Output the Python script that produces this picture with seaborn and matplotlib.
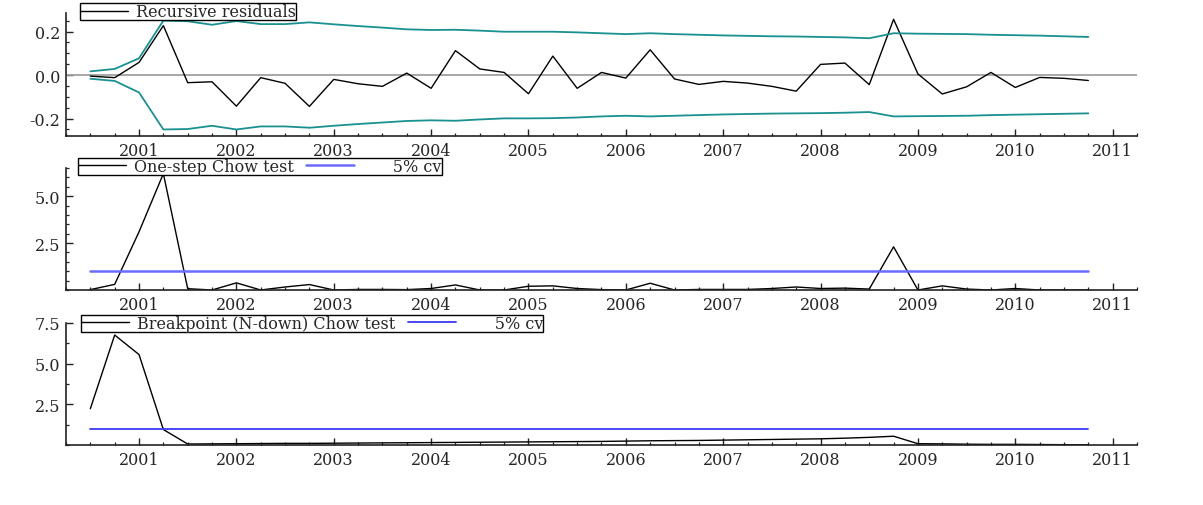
import numpy as np
import pandas as pd
import matplotlib
matplotlib.use("Agg")
import matplotlib.pyplot as plt
from matplotlib.ticker import MultipleLocator, FormatStrFormatter
import seaborn as sns

# ---------------- data ----------------
quarters = pd.period_range("2000Q3", "2010Q4", freq="Q")

recursive_residuals = [
    -0.005, -0.012, 0.058, 0.227, -0.035, -0.031, -0.143, -0.012, -0.038, -0.144,
    -0.020, -0.040, -0.052, 0.009, -0.061, 0.112, 0.028, 0.012, -0.086, 0.087,
    -0.061, 0.012, -0.014, 0.116, -0.018, -0.043, -0.029, -0.037, -0.052, -0.074,
    0.049, 0.055, -0.044, 0.256, 0.005, -0.087, -0.054, 0.012, -0.057, -0.011,
    -0.015, -0.025]

upper_band = [
    0.017, 0.028, 0.077, 0.250, 0.247, 0.231, 0.248, 0.234, 0.234, 0.242,
    0.233, 0.225, 0.218, 0.210, 0.207, 0.208, 0.204, 0.199, 0.199, 0.199,
    0.196, 0.192, 0.188, 0.192, 0.188, 0.185, 0.182, 0.180, 0.178, 0.177,
    0.175, 0.173, 0.169, 0.192, 0.190, 0.189, 0.188, 0.185, 0.183, 0.181,
    0.178, 0.175]

lower_band = [
    -0.017, -0.027, -0.080, -0.250, -0.248, -0.233, -0.250, -0.236, -0.236, -0.242,
    -0.233, -0.225, -0.218, -0.211, -0.208, -0.210, -0.204, -0.199, -0.199, -0.198,
    -0.195, -0.190, -0.187, -0.190, -0.187, -0.184, -0.181, -0.179, -0.177, -0.176,
    -0.175, -0.173, -0.170, -0.190, -0.189, -0.188, -0.187, -0.184, -0.182, -0.180,
    -0.178, -0.176]

one_step_chow = [
    0.02, 0.30, 3.10, 6.20, 0.07, 0.00, 0.38, 0.00, 0.16, 0.29,
    0.00, 0.03, 0.03, 0.02, 0.08, 0.27, 0.00, 0.00, 0.20, 0.22,
    0.08, 0.02, 0.00, 0.36, 0.00, 0.03, 0.03, 0.03, 0.08, 0.16,
    0.08, 0.10, 0.05, 2.30, 0.00, 0.22, 0.05, 0.00, 0.08, 0.00,
    0.00, 0.00]

breakpoint_chow = [
    2.23, 6.76, 5.56, 0.95, 0.06, 0.07, 0.08, 0.09, 0.10, 0.10,
    0.11, 0.12, 0.13, 0.14, 0.15, 0.16, 0.17, 0.18, 0.19, 0.20,
    0.21, 0.22, 0.24, 0.26, 0.27, 0.28, 0.30, 0.32, 0.34, 0.36,
    0.38, 0.42, 0.47, 0.54, 0.08, 0.07, 0.05, 0.04, 0.04, 0.03,
    0.02, 0.01]

critical_value = 1.0
year_ticks = list(range(2001, 2012))

label_resid = "Recursive residuals"
label_one = "One-step Chow test"
label_bp = "Breakpoint (N-down) Chow test"
label_cv = "      5% cv"

# ---------------- frame ----------------
t = [p.year + (p.quarter - 1) / 4 for p in quarters]
df = pd.DataFrame({
    "t": t,
    "resid": recursive_residuals,
    "up": upper_band,
    "lo": lower_band,
    "one": one_step_chow,
    "bp": breakpoint_chow,
    "cv": [critical_value] * len(t),
})

sns.set_style("ticks")
plt.rcParams["font.family"] = ["DejaVu Serif"]
plt.rcParams["axes.unicode_minus"] = False

fig = plt.figure(figsize=(12.03, 5.06), dpi=100)
W, H = 1203, 506
def ax_at(left, top, right, bottom):
    return fig.add_axes([left / W, 1 - bottom / H, (right - left) / W, (bottom - top) / H])

ax1 = ax_at(66, 14, 1137, 137)
ax2 = ax_at(66, 169, 1137, 291)
ax3 = ax_at(66, 324, 1137, 446)

teal = "#1a9090"
fs_tick = 11.5
fs_leg = 11.5

def style(ax, ymaj, ymin_step, fmt):
    ax.set_xlim(2000.25, 2011.25)
    ax.xaxis.set_major_locator(MultipleLocator(1))
    ax.xaxis.set_minor_locator(MultipleLocator(0.25))
    ax.yaxis.set_major_locator(MultipleLocator(ymaj))
    ax.yaxis.set_minor_locator(MultipleLocator(ymin_step))
    ax.yaxis.set_major_formatter(FormatStrFormatter(fmt))
    ax.tick_params(which="major", direction="in", length=5, width=1.0, color="#222222",
                   labelsize=fs_tick, pad=4)
    ax.tick_params(which="minor", direction="in", length=2.5, width=0.9, color="#222222")
    for s in ("top", "right"):
        ax.spines[s].set_visible(False)
    for s in ("left", "bottom"):
        ax.spines[s].set_linewidth(1.2)
        ax.spines[s].set_color("#222222")
    ax.set_xlabel("")
    ax.set_ylabel("")
    ax.set_xticks(year_ticks)
    ax.set_xticklabels([str(y) for y in year_ticks])

def legend(ax, x0, y0):
    leg = ax.legend(loc="lower left", bbox_to_anchor=(x0, y0), ncol=2, frameon=True,
                    fancybox=False, edgecolor="black", framealpha=1, fontsize=fs_leg,
                    borderpad=0.0, handlelength=3.0, handletextpad=0.5,
                    columnspacing=0.8, borderaxespad=0)
    leg.get_frame().set_linewidth(1.0)
    return leg

# ---- panel 1: recursive residuals ----
ax1.axhline(0, color="#a0a0a0", lw=1.3, zorder=1)
sns.lineplot(data=df, x="t", y="resid", ax=ax1, color="black", lw=1.0, label=label_resid)
sns.lineplot(data=df, x="t", y="up", ax=ax1, color=teal, lw=1.3, legend=False)
sns.lineplot(data=df, x="t", y="lo", ax=ax1, color=teal, lw=1.3, legend=False)
style(ax1, 0.2, 0.05, "%.1f")
ax1.set_ylim(-0.28, 0.285)
legend(ax1, 0.013, 0.94)

# ---- panel 2: one-step Chow ----
sns.lineplot(data=df, x="t", y="one", ax=ax2, color="black", lw=1.0, label=label_one)
sns.lineplot(data=df, x="t", y="cv", ax=ax2, color="#6b6bff", lw=1.8, label=label_cv)
style(ax2, 2.5, 0.5, "%.1f")
ax2.set_ylim(0, 6.5)
ax2.set_yticks([2.5, 5.0])
legend(ax2, 0.011, 0.945)

# ---- panel 3: breakpoint Chow ----
sns.lineplot(data=df, x="t", y="bp", ax=ax3, color="black", lw=1.0, label=label_bp)
sns.lineplot(data=df, x="t", y="cv", ax=ax3, color="#3a3af0", lw=1.3, label=label_cv)
style(ax3, 2.5, 1.25, "%.1f")
ax3.set_ylim(0, 7.5)
ax3.set_yticks([2.5, 5.0, 7.5])
legend(ax3, 0.014, 0.93)

fig.savefig("out.png", dpi=100, facecolor="white")
